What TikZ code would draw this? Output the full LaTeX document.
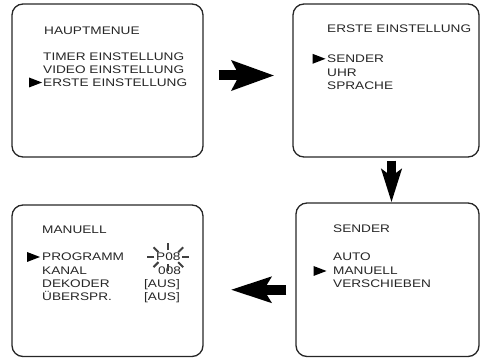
\documentclass[tikz,border=0pt]{standalone}
\usepackage{fontspec}
\setmainfont{Liberation Sans}[FakeStretch=1.24]
\usetikzlibrary{arrows.meta,calc}

\newcommand{\osdsize}{\fontsize{11}{13.2}\selectfont}

\tikzset{
  screen/.style={draw=black!85, line width=1.3pt, rounded corners=11pt, inner sep=0pt},
  osd/.style={anchor=base west, inner sep=0pt, text=black!85, font=\osdsize},
  cursor/.pic={\fill[black] (-6.5pt,5pt) -- (6.5pt,0pt) -- (-6.5pt,-5pt) -- cycle;},
  blockarrow/.style n args={3}{line width=#1,
    -{Stealth[length=#2 0, width=#3 0, inset=7pt 0]}},
  ray/.style={line width=2pt, black!75},
}

\begin{document}
\begin{tikzpicture}[x=1pt,y=-1pt]
\useasboundingbox (0,0) rectangle (480,358);

% hauptmenue
\node[screen, minimum width=191pt, minimum height=153pt] (hm) at (107.5,80.5) {};
\node[osd] (hmtitle) at (44,35) {HAUPTMENUE};
\node[osd] (hmtimer) at (43,60.5) {TIMER EINSTELLUNG};
\node[osd] (hmvideo) at (43,73.5) {VIDEO EINSTELLUNG};
\node[osd] (hmerste) at (43,86.5) {ERSTE EINSTELLUNG};
\pic at (35.5,82.5) {cursor};

% erste einstellung
\node[screen, minimum width=186pt, minimum height=153pt] (ee) at (386,80.5) {};
\node[osd] (eetitle) at (327,33) {ERSTE EINSTELLUNG};
\node[osd] (eesender) at (327,63) {SENDER};
\node[osd] (eeuhr) at (327,76.5) {UHR};
\node[osd] (eesprache) at (327,90) {SPRACHE};
\pic at (319,58.8) {cursor};

% sender
\node[screen, minimum width=183pt, minimum height=153.5pt] (se) at (387.5,279.75) {};
\node[osd] (setitle) at (333,233) {SENDER};
\node[osd] (seauto) at (333,261) {AUTO};
\node[osd] (semanuell) at (333,274.5) {MANUELL};
\node[osd] (severschieben) at (333,288) {VERSCHIEBEN};
\pic at (320,271) {cursor};

% manuell
\node[screen, minimum width=191pt, minimum height=151.5pt] (sm) at (107.5,280.75) {};
\node[osd] (smtitle) at (42,234) {MANUELL};
\node[osd] (smprog) at (42,261) {PROGRAMM};
\node[osd] (smkanal) at (42,274.3) {KANAL};
\node[osd] (smdekoder) at (42,287.6) {DEKODER};
\node[osd] (smueber) at (42,301) {ÜBERSPR.};
\pic at (33.5,257) {cursor};

\node[osd] (p08) at (156,261) {P08};
\node[osd] (kanal) at (158,274.3) {008};
\node[osd] (dekaus) at (144,287.6) {[AUS]};
\node[osd] (ueberaus) at (144,301) {[AUS]};

% blinking P08
\foreach \a in {0,45,...,315}
  \draw[ray] ($(p08.center)+(\a:14pt and 7pt)$) -- ($(p08.center)+(\a:21pt and 14pt)$);

% arrows
\draw[blockarrow={10pt}{42pt}{29pt}, shorten <=15pt, shorten >=18pt]
  ([yshift=5pt]hm.east) -- ([yshift=5pt]ee.west);
\draw[blockarrow={9pt}{33pt}{20pt}, shorten <=3pt]
  ([xshift=5.5pt]ee.south) -- ([xshift=4pt]se.north);
\draw[blockarrow={10pt}{40pt}{25pt}, shorten <=9pt, shorten >=27pt]
  ([yshift=-10pt]se.west) -- ([yshift=-9pt]sm.east);

\end{tikzpicture}
\end{document}
